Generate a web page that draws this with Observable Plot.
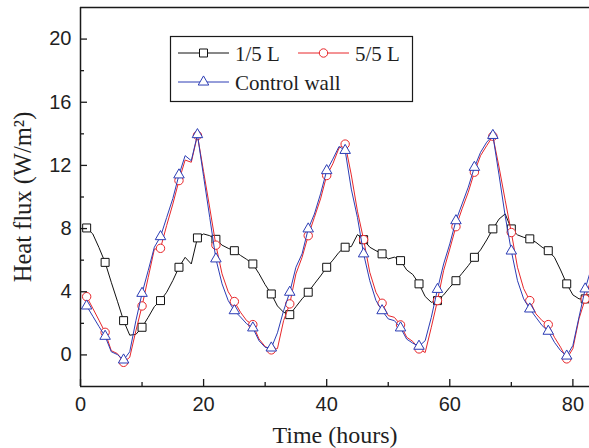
<!DOCTYPE html>
<html><head><meta charset="utf-8">
<script src="https://cdn.jsdelivr.net/npm/d3@7"></script>
<script src="https://cdn.jsdelivr.net/npm/@observablehq/plot@0.6"></script>
<style>
body{margin:0;background:#fff}
#wrap{position:relative;width:589px;height:448px}
</style>
</head><body><div id="wrap"></div>
<script>
const seriesNames = ["1/5 L", "5/5 L", "Control wall"];
const seriesColors = ["#111111", "#e8262a", "#2c3db5"];
const seriesSymbols = ["square", "circle", "triangle"];
const seriesR = [4.5, 4.2, 3.9];

const hours = [1,2,3,4,5,6,7,8,9,10,11,12,13,14,15,16,17,18,19,20,
  21,22,23,24,25,26,27,28,29,30,31,32,33,34,35,36,37,38,39,40,
  41,42,43,44,45,46,47,48,49,50,51,52,53,54,55,56,57,58,59,60,
  61,62,63,64,65,66,67,68,69,70,71,72,73,74,75,76,77,78,79,80,81,82,83];

const flux15 = [8.04,7.66,6.8,5.86,4.6,3.4,2.17,1.25,1.3,1.75,
  2.38,3.06,3.44,3.97,4.71,5.55,6.18,5.76,7.41,7.66,
  7.55,7.32,6.95,6.75,6.6,6.3,6.05,5.76,5.15,4.45,
  3.86,3.1,2.7,2.55,3.05,3.55,3.97,4.5,5.0,5.55,
  6.0,6.5,6.82,6.86,7.62,7.3,6.82,6.6,6.4,6.08,
  6.19,5.97,5.38,5.09,4.5,3.7,3.33,3.44,3.8,4.28,
  4.7,5.17,5.65,6.18,6.65,7.28,7.98,8.6,8.93,7.98,
  7.6,7.45,7.35,7.13,6.82,6.6,6.18,5.38,4.5,3.8,
  3.55,3.55,3.7];

const flux55 = [3.69,2.95,2.2,1.43,0.27,0.08,-0.47,-0.15,1.53,3.1,
  4.9,6.7,6.75,8.2,9.55,11.04,12.34,12.2,13.9,11.6,
  9.3,6.95,5.13,4.0,3.38,2.7,2.17,1.92,1.01,0.53,
  0.32,0.4,2.17,3.23,5.13,6.18,7.55,8.71,9.88,11.36,
  12.1,13.1,13.35,11.4,9.1,7.3,5.23,3.97,3.27,2.49,
  2.38,1.9,1.12,0.85,0.38,0.15,1.75,3.44,5.34,6.71,
  8.12,9.25,10.3,11.57,12.62,13.25,13.85,11.9,9.8,7.75,
  5.55,4.2,3.44,2.6,2.17,1.92,1.12,0.49,-0.25,0.4,
  2.3,3.54,4.9];

const fluxCtrl = [3.1,2.45,1.8,1.18,0.2,0.02,-0.32,0.2,2.17,3.9,
  5.34,6.82,7.49,8.7,9.9,11.4,12.62,12.3,13.95,11.3,
  8.7,6.08,4.5,3.44,2.8,2.4,1.97,1.71,0.9,0.48,
  0.44,1.4,2.8,3.97,5.55,6.4,7.98,8.92,10.2,11.67,
  12.4,13.2,12.95,10.5,8.7,6.4,4.7,3.45,2.8,2.28,
  2.17,1.71,1.0,0.74,0.55,0.9,2.38,4.15,5.76,7.03,
  8.5,9.56,10.62,11.88,12.83,13.47,13.9,11.4,8.8,6.58,
  4.7,3.55,2.91,2.38,1.86,1.5,0.8,0.27,-0.07,0.6,
  2.4,4.18,5.5];

const markerHours = [1,4,7,10,13,16,19,22,25,28,31,34,37,40,43,46,49,52,55,58,61,64,67,70,73,76,79,82];

const xTicks = [0, 20, 40, 60, 80];
const xMinorTicks = [10, 30, 50, 70];
const yTicks = [0, 4, 8, 12, 16, 20];
const yMinorTicks = [2, 6, 10, 14, 18];
const xDomain = [0, 82.7];
const yDomain = [-2, 22];

const allValues = [flux15, flux55, fluxCtrl];
const W = 589, H = 448, ML = 80, MR = 0, MT = 7, MB = 62;
const frameW = W - ML - MR, frameH = H - MT - MB;
const axisColor = "#1a1a1a";
const textColor = "#1f1f1f";

const seriesMarks = allValues.flatMap((vals, si) => {
  const rows = hours.map((h, i) => ({h, v: vals[i]}));
  const marks = rows.filter(d => markerHours.includes(d.h));
  return [
    Plot.line(rows, {x: "h", y: "v", stroke: seriesColors[si], strokeWidth: 1, clip: true}),
    Plot.dot(marks, {x: "h", y: "v", symbol: seriesSymbols[si], r: seriesR[si], stroke: seriesColors[si], fill: "white", strokeWidth: 1, clip: true})
  ];
});

const chart = Plot.plot({
  width: W, height: H,
  marginLeft: ML, marginRight: MR, marginTop: MT, marginBottom: MB,
  style: {background: "white", overflow: "visible", fontWeight: "normal"},
  x: {domain: xDomain},
  y: {domain: yDomain},
  marks: [
    ...seriesMarks,
    Plot.ruleY(yDomain, {stroke: axisColor, strokeWidth: 1.5}),
    Plot.ruleX([xDomain[0]], {stroke: axisColor, strokeWidth: 1.5}),
    Plot.tickY(yTicks, {stroke: axisColor, strokeWidth: 1.3, insetRight: frameW - 7}),
    Plot.tickY(yMinorTicks, {stroke: axisColor, strokeWidth: 1.3, insetRight: frameW - 4}),
    Plot.tickX(xTicks, {stroke: axisColor, strokeWidth: 1.3, insetTop: frameH - 7}),
    Plot.tickX(xMinorTicks, {stroke: axisColor, strokeWidth: 1.3, insetTop: frameH - 4}),
    Plot.axisY({ticks: yTicks, tickSize: 0, tickPadding: 9, label: null, fontSize: 20, fontFamily: "Liberation Sans", fill: textColor}),
    Plot.axisX({ticks: xTicks, tickSize: 0, tickPadding: 10, label: null, fontSize: 20, fontFamily: "Liberation Sans", fill: textColor}),
    Plot.text(["Time (hours)"], {frameAnchor: "bottom", dy: 56, lineAnchor: "bottom", textAnchor: "middle", fontFamily: "Liberation Serif", fontSize: 24, fontWeight: "normal", fill: textColor}),
    Plot.text(["Heat flux (W/m²)"], {frameAnchor: "left", dx: -50, rotate: -90, lineAnchor: "bottom", textAnchor: "middle", fontFamily: "Liberation Serif", fontSize: 24.5, fontWeight: "normal", fill: textColor})
  ]
});
const wrap = document.getElementById("wrap");
wrap.appendChild(chart);

// Legend overlay inside the plot frame
const legendBox = {x: 170.5, y: 36.5, w: 242, h: 65};
const legendItems = [
  {cx: 178, cy: 53},
  {cx: 298, cy: 53},
  {cx: 178, cy: 82}
];
const swatchLen = 51;
const svg = d3.select(wrap).append("svg")
  .attr("width", W).attr("height", H)
  .style("position", "absolute").style("left", "0").style("top", "0");
svg.append("rect")
  .attr("x", legendBox.x).attr("y", legendBox.y)
  .attr("width", legendBox.w).attr("height", legendBox.h)
  .attr("fill", "white").attr("stroke", axisColor).attr("stroke-width", 1.2);
const symMap = {square: d3.symbolSquare, circle: d3.symbolCircle, triangle: d3.symbolTriangle};
seriesNames.forEach((name, i) => {
  const it = legendItems[i];
  const g = svg.append("g");
  g.append("line").attr("x1", it.cx).attr("x2", it.cx + swatchLen)
    .attr("y1", it.cy).attr("y2", it.cy)
    .attr("stroke", seriesColors[i]).attr("stroke-width", 1);
  g.append("path")
    .attr("d", d3.symbol(symMap[seriesSymbols[i]], Math.PI * seriesR[i] * seriesR[i])())
    .attr("transform", `translate(${it.cx + swatchLen / 2},${it.cy})`)
    .attr("fill", "white").attr("stroke", seriesColors[i]).attr("stroke-width", 1);
  g.append("text").attr("x", it.cx + swatchLen + 6).attr("y", it.cy + 7.5)
    .attr("font-family", "Liberation Serif").attr("font-size", 21).attr("font-weight", "normal")
    .attr("fill", textColor).text(name);
});
</script>
</body></html>
